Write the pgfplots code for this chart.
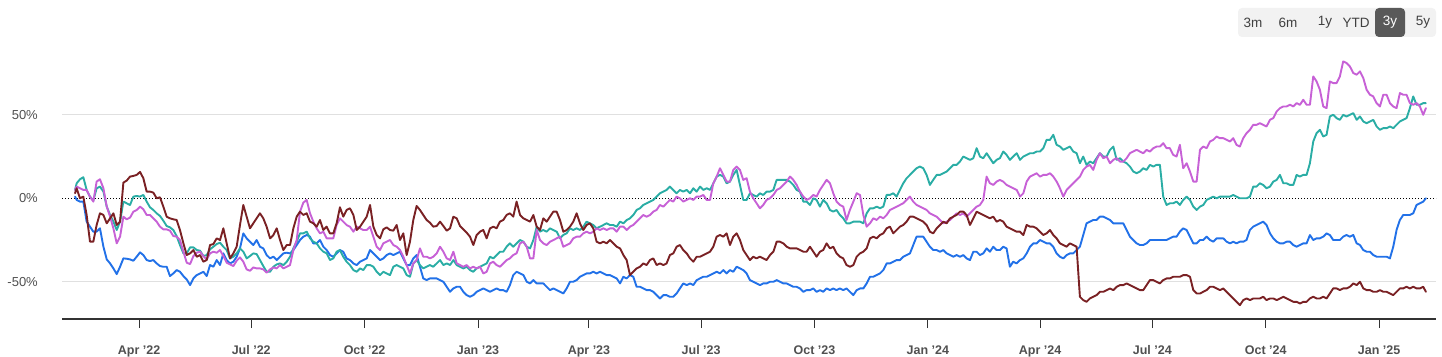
\documentclass[border=0pt]{standalone}
\usepackage{pgfplots}
\pgfplotsset{compat=1.18}
\usepackage{pgfplotstable}
\usepackage{fontspec}
\setmainfont{Liberation Sans}
\definecolor{cblue}{HTML}{2271E8}
\definecolor{cteal}{HTML}{2AADA5}
\definecolor{cmag}{HTML}{C761D6}
\definecolor{cmar}{HTML}{7A2124}
\definecolor{lbl}{HTML}{505050}
\definecolor{btnbg}{HTML}{F2F2F2}
\definecolor{btnon}{HTML}{595959}

% d = days since 1 Jan 2022; values in percent
\pgfplotstableread{
d B T M R
38.1 1 5 5 3
39.4 -1 9 7 6
42.1 -2 11.4 6 0
44.8 -2 12.6 5 1
47.5 -14 5 5 -10
50.2 -17 1 1 -26
52.9 -20 -1.4 -2 -26
55.6 -20 6 10 -16
58.3 -18 7 11.4 -9
61.1 -29 4 6 -10
63.8 -36.6 -5 -5 -15
66.5 -39 -10 -11 -12
69.2 -42 -14 -18 -9
71.9 -45.4 -19 -27 -16
74.6 -41 -14 -23 -14
77.3 -36 -2 -11 9.4
80.0 -36.2 -3 -12.6 10.6
82.7 -36.6 -4 -11.6 13
85.4 -37.4 1 -8 13.4
88.1 -35 1.4 -7 14
90.8 -32.4 1 -5 15.8
93.5 -34 2 -6.6 12
96.2 -37 -2 -10 4
98.9 -37.6 -5.4 -10 4
101.6 -37 -7 -12 3.4
104.3 -39 -9 -14 0
107.0 -40.6 -10.6 -17 0.6
109.7 -41 -13.4 -18.6 -5
112.4 -41 -16.6 -18.6 -11
115.1 -46.6 -17.4 -19.4 -12
117.8 -45 -19 -22.6 -12.6
120.5 -43 -22.6 -23 -13
123.2 -44 -28 -25 -19
126.0 -46.6 -33 -32 -27
128.7 -48.6 -33 -38.6 -34
131.4 -52 -29.4 -39.4 -33
134.1 -48 -29.4 -34.6 -31
136.8 -46 -31 -32.6 -35
139.5 -45 -31.4 -32 -34
142.2 -44 -34.6 -34.6 -38
144.9 -46.6 -34 -36.6 -37
147.6 -40 -30.6 -33 -28
150.3 -41 -29 -32 -27.4
153.0 -37 -27.4 -32.6 -24
155.7 -40 -26.6 -31 -25
158.4 -33 -29 -34.6 -18
161.1 -37 -31 -38.6 -27
163.8 -39 -36 -39.6 -36
166.5 -38 -35 -40.6 -33
169.2 -35 -33 -37.4 -29
171.9 -30 -30 -35.4 -16
174.6 -21 -32 -38 -4
177.3 -24 -36 -42.6 -11
180.0 -26 -34.6 -43.4 -18
182.7 -28 -33 -41.4 -15
185.4 -25 -33.4 -42 -12
188.1 -29 -37 -42 -9
190.8 -30 -40.6 -42.6 -12
193.5 -34 -44 -44.6 -17
196.3 -36 -44 -42.6 -24
199.0 -35 -41 -41.4 -22
201.7 -37 -39.6 -42 -18
204.4 -35 -39 -40 -25
207.1 -33 -40 -42 -31
209.8 -32.6 -38 -41 -28
212.5 -33 -35 -40 -28
215.2 -31 -30 -31 -18
217.9 -28 -26 -25 -11
220.6 -25 -21 -8 -8
223.3 -23 -21 -2.6 -10
226.0 -22 -20 -1 -9
228.7 -23 -24 -9 -14
231.4 -27 -26 -14 -15
234.1 -27 -27 -18 -17
236.8 -25 -30 -21 -13
239.5 -29 -32 -20 -19
242.2 -31 -33 -24 -17
244.9 -34 -37 -24 -21
247.6 -35 -36 -24 -21
250.3 -33 -32 -16 -15
253.0 -31 -31 -12 -5.4
255.7 -32 -35 -14 -11
258.4 -36 -38 -16 -7
261.1 -37 -40 -17 -6
263.9 -39 -43 -20 -10
266.6 -40 -44 -17 -19
269.3 -38 -42 -18 -17
272.0 -37 -43 -19 -14
274.7 -36 -40 -19 -11
277.4 -31 -40 -17 -4
280.1 -33 -41 -23 -17
282.8 -35 -44 -29 -22
285.5 -37 -46 -31 -24
288.2 -36 -44 -27 -18.6
290.9 -34 -45 -26 -17.4
293.6 -33 -46 -25 -19
296.3 -34 -41 -28 -19.4
299.0 -33 -40 -29 -16
301.7 -32 -41 -31 -25
304.4 -36 -42 -35 -21
307.1 -40 -46 -40 -34
309.8 -40 -47 -45 -26
312.5 -36 -39 -39 -13
315.2 -34 -37 -37 -4.6
317.9 -41 -40 -30 -7
320.6 -48 -42 -35 -10
323.3 -49 -41 -35 -13
326.0 -48 -40 -36 -14.6
328.7 -48 -41 -35 -17
331.5 -48 -39 -33 -16.6
334.2 -49 -37 -29 -14
336.9 -50 -40 -32 -16.6
339.6 -53 -39 -36 -19.4
342.3 -56 -40 -37 -18
345.0 -54 -37 -32 -11
347.7 -53 -40 -39 -12
350.4 -53 -41 -40 -16.6
353.1 -56 -42 -41 -18.6
355.8 -58 -41 -40 -20.6
358.5 -59 -43 -42 -23
361.2 -58 -44 -41 -28
363.9 -56 -42 -42 -22
366.6 -55 -41 -41 -20
369.3 -54 -40 -45 -19
372.0 -55 -39 -44 -24
374.7 -56 -35 -39 -18
377.4 -55 -36 -38 -17
380.1 -54 -34 -40 -18
382.8 -55 -32 -41 -14
385.5 -55 -32 -39 -13
388.2 -56 -29 -37 -10
390.9 -52 -27 -36 -9
393.6 -46 -29 -34 -11
396.3 -44 -27 -33 -2
399.1 -45 -25 -27 -10
401.8 -46 -26 -26 -12
404.5 -50 -29 -29 -13
407.2 -51 -30 -36 -14
409.9 -49 -25 -36 -10
412.6 -51 -17 -19 -17
415.3 -51 -20 -25 -19
418.0 -51 -19 -27 -12
420.7 -53 -20 -28 -14
423.4 -55 -18 -26 -11
426.1 -54 -19 -25 -8
428.8 -55 -20 -24 -8
431.5 -56 -24 -23 -13
434.2 -57 -22 -29 -20
436.9 -54 -21 -28 -19
439.6 -50 -18 -27 -17
442.3 -50 -19 -24 -14
445.0 -49 -18 -23 -9
447.7 -47 -19 -23 -15
450.4 -46 -17 -21 -19
453.1 -45 -14 -20 -16
455.8 -45 -15 -21 -15
458.5 -44 -16 -20 -18
461.2 -45 -18 -18 -26
464.0 -44 -17 -19 -27
466.7 -45 -16 -18 -26
469.4 -46 -15 -19 -27
472.1 -46 -16 -18 -25
474.8 -47 -16 -18 -27
477.5 -48 -17 -20 -29
480.2 -51 -14 -17 -30
482.9 -47 -15 -17 -34
485.6 -48 -13 -19 -37
488.3 -46 -12 -17 -46
491.0 -47 -10 -16 -44
493.7 -53 -7 -14 -42
496.4 -53 -6 -12 -41
499.1 -54 -4 -10 -39
501.8 -55 -3 -11 -40
504.5 -55 -2 -10 -37
507.2 -56 -1 -8 -36
509.9 -58 1 -7 -40
512.6 -60 3 -4 -39
515.3 -58 4 -5 -40
518.0 -58 5 -3 -39
520.7 -59 7 -1 -34
523.4 -59 5 -2 -33
526.1 -57 3 1 -29
528.8 -54 5 0 -28
531.5 -51 4 -2 -31
534.3 -52 5 -1 -33
537.0 -51 3 0 -36
539.7 -52 6 -1 -38
542.4 -49 4 1 -35
545.1 -48 7 1 -35
547.8 -47 5 2 -34
550.5 -47 6 -1 -33
553.2 -46 5 -1 -32
555.9 -45 9 9 -29
558.6 -44 13 13 -23
561.3 -45 14 18 -22
564.0 -43 13 14 -23
566.7 -45 9 10 -21
569.4 -43 10 10 -28
572.1 -44 14 17 -23
574.8 -41 17 19 -21
577.5 -42 8 17 -25
580.2 -43 -1 11 -31
582.9 -45 -1 12 -34
585.6 -49 3 4 -37
588.3 -50 2 0 -35
591.0 -51 1 -3 -36
593.7 -52 3 -6 -35
596.4 -51 2 -4 -36
599.1 -51 4 -1 -37
601.9 -50 4 0 -34
604.6 -50 5 2 -32
607.3 -49 11 5 -26
610.0 -50 11 6 -26
612.7 -51 11 8 -27
615.4 -51 11 10 -29
618.1 -52 10 13 -30
620.8 -53 8 11 -30
623.5 -53 5 8 -30
626.2 -54 4 4 -31
628.9 -56 -2 1 -32
631.6 -55 -2 -1 -32
634.3 -55 -4 0 -29
637.0 -54 0 2 -32
639.7 -56 -1 1 -35
642.4 -55 -5 5 -32
645.1 -56 -1 8 -31
647.8 -54 -3 11 -27
650.5 -55 -7 9 -30
653.2 -54 -8 3 -29
655.9 -55 -7 -2 -33
658.6 -54 -10 -4 -35
661.3 -55 -12 -5 -36
664.0 -54 -15 -13 -40
666.7 -56 -15 -7 -41
669.5 -58 -14 -2 -40
672.2 -55 -14 3 -35
674.9 -54 -14 2 -33
677.6 -54 -15 -10 -32
680.3 -51 -9 -17 -30
683.0 -47 -6 -15 -24
685.7 -47 -6 -12 -23
688.4 -46 -5 -13 -24
691.1 -45 -6 -11 -22
693.8 -43 -5 -12 -21
696.5 -39 2 -10 -18
699.2 -39 2 -7 -17
701.9 -38 3 -6 -21
704.6 -37 1 -5 -19
707.3 -37 5 -4 -17
710.0 -35 9 -3 -16
712.7 -34 12 -1 -14
715.4 -33 14 1 -11
718.1 -28 16 -2 -11
720.8 -23 18 -4 -12
723.5 -23 19 -5 -13
726.2 -23 18 -6 -14
728.9 -26 14 -7 -16
731.6 -29 8 -9 -20
734.3 -31 11 -10 -21
737.1 -31 14 -11 -18
739.8 -32 14 -13 -16
742.5 -31 15 -15 -14
745.2 -33 16 -14 -15
747.9 -34 18 -13 -12
750.6 -35 20 -11 -11
753.3 -34 20 -9 -10
756.0 -35 22 -10 -8
758.7 -34 25 -9 -8
761.4 -36 24 -11 -10
764.1 -37 23 -9 -16
766.8 -32 24 -7 -12
769.5 -32 30 -5 -8
772.2 -34 25 -4 -9
774.9 -33 24 -1 -10
777.6 -30 27 13 -11
780.3 -32 24 9 -12
783.0 -29 21 8 -11
785.7 -31 23 10 -14
788.4 -31 24 11 -13
791.1 -29 28 10 -14
793.8 -30 26 8 -17
796.5 -41 23 7 -18
799.2 -38 25 6 -19
802.0 -39 27 5 -20
804.7 -37 23 1 -20
807.4 -36 25 3 -22
810.1 -33 26 10 -16
812.8 -29 27 13 -17
815.5 -27 27 14 -17
818.2 -27 28 15 -18
820.9 -25 28 13 -20
823.6 -26 30 14 -22
826.3 -27 35 14 -21
829.0 -27 35 15 -19
831.7 -29 38 13 -22
834.4 -33 32 10 -24
837.1 -35 31 6 -27
839.8 -36 29 1 -28
842.5 -34 30 5 -29
845.2 -33 31 7 -27
847.9 -33 28 9 -28
850.6 -31 27 11 -29
853.3 -29 21 13 -59
856.0 -22 25 17 -61
858.7 -15 20 19 -62
861.4 -14 22 20 -60
864.1 -13 21 17 -59
866.8 -13 24 23 -58
869.5 -11 27 27 -56
872.3 -11 25 24 -56
875.0 -12 25 25 -55
877.7 -13 29 21 -54
880.4 -15 31 23 -55
883.1 -15 23 24 -53
885.8 -15 24 22 -52
888.5 -15 22 22 -52
891.2 -19 21 24 -51
893.9 -23 19 27 -52
896.6 -25 16 28 -53
899.3 -27 15 29 -54
902.0 -28 16 28 -55
904.7 -28 18 27 -55
907.4 -27 17 29 -52
910.1 -25 20 28 -49
912.8 -25 19 30 -49
915.5 -25 20 31 -50
918.2 -25 20 31 -51
920.9 -25 1 33 -49
923.6 -25 -4 30 -48
926.3 -24 -3 30 -48
929.0 -23 -3 26 -47
931.7 -23 -2 25 -47
934.4 -20 -4 32 -47
937.1 -18 -1 18 -46
939.9 -19 1 21 -46
942.6 -23 -1 16 -47
945.3 -27 -5 10 -55
948.0 -27 -7 10 -57
950.7 -25 -5 29 -57
953.4 -25 -4 31 -56
956.1 -23 -1 30 -55
958.8 -25 0 34 -53
961.5 -26 1 35 -53
964.2 -24 0 37 -54
966.9 -24 1 36 -55
969.6 -24 1 36 -54
972.3 -26 1 35 -56
975.0 -27 1 34 -58
977.7 -26 2 36 -60
980.4 -27 1 32 -62
983.1 -26 0 31 -64
985.8 -26 0 36 -61
988.5 -25 0 39 -60
991.2 -19 1 41 -61
993.9 -17 7 44 -60
996.6 -16 7 44 -60
999.3 -15 9 45 -60
1002.0 -14 8 44 -59
1004.7 -16 6 43 -61
1007.5 -21 7 47 -60
1010.2 -24 10 48 -60
1012.9 -26 11 52 -61
1015.6 -27 14 54 -60
1018.3 -27 9 55 -59
1021.0 -26 9 55 -60
1023.7 -26 8 56 -61
1026.4 -28 8 55 -62
1029.1 -29 14 57 -62
1031.8 -28 13 56 -63
1034.5 -27 14 59 -62
1037.2 -27 14 56 -62
1039.9 -22 21 56 -60
1042.6 -25 34 73 -59
1045.3 -24 39 70 -60
1048.0 -24 41 65 -60
1050.7 -23 37 55 -59
1053.4 -21 38 54 -60
1056.1 -22 49 70 -57
1058.8 -25 50 69 -54
1061.5 -25 48 69 -54
1064.2 -25 47 73 -55
1066.9 -23 50 82 -54
1069.6 -22 49 81 -54
1072.3 -23 50 79 -53
1075.1 -22 51 75 -51
1077.8 -27 47 74 -52
1080.5 -28 49 76 -50
1083.2 -31 46 72 -54
1085.9 -32 45 65 -55
1088.6 -32 46 62 -55
1091.3 -34 47 61 -56
1094.0 -35 43 57 -56
1096.7 -35 41 55 -55
1099.4 -35 42 62 -56
1102.1 -35 42 62 -56
1104.8 -36 43 57 -57
1107.5 -29 42 55 -58
1110.2 -19 44 54 -56
1112.9 -13 46 63 -54
1115.6 -10 47 62 -54
1118.3 -10 48 62 -53
1121.0 -10 54 57 -54
1123.7 -9 61 56 -53
1126.4 -4 56 57 -54
1129.1 -3 56 55 -54
1131.8 -2 57 50 -53
1134.0 0 57 54 -56
}\data

\begin{document}
\begin{tikzpicture}[x=1pt,y=1pt]
\useasboundingbox (0,0) rectangle (1442,356);
% range selector
\fill[btnbg, rounded corners=4pt] (1238,319) rectangle (1436,348);
\fill[btnon, rounded corners=4pt] (1375,319) rectangle (1405,348);
\begin{scope}[every node/.style={font=\fontsize{13.5}{15}\selectfont, text=black!75, anchor=center, inner sep=0pt}]
\node at (1253,333.5) {3m};
\node at (1288,333.5) {6m};
\node at (1325,333.5) {1y};
\node at (1356,333.5) {YTD};
\node[text=white] at (1390,333.5) {3y};
\node at (1423,333.5) {5y};
\end{scope}
\begin{axis}[
  at={(62pt,37pt)}, anchor=south west,
  scale only axis, width=1374pt, height=279pt,
  xmin=27.5, xmax=1142.2, ymin=-72.3, ymax=94.8,
  axis x line*=bottom, axis y line*=left,
  y axis line style={draw=none},
  x axis line style={draw=black!80, line width=1.1pt},
  xtick={90,181,273,365,455,546,638,730,821,912,1004,1096},
  xticklabels={Apr '22,Jul '22,Oct '22,Jan '23,Apr '23,Jul '23,Oct '23,Jan '24,Apr '24,Jul '24,Oct '24,Jan '25},
  tick align=outside,
  xtick style={draw=black!80, line width=1pt},
  major tick length=9pt,
  ytick={-50,50}, yticklabels={-50\%,50\%},
  ytick style={draw=none},
  extra y ticks={0}, extra y tick labels={0\%},
  extra y tick style={grid=major, grid style={draw=black, line width=1pt, dash pattern=on 1pt off 2pt}},
  ymajorgrids,
  grid style={draw=black!12, line width=0.8pt},
  yticklabel style={font=\fontsize{13}{15}\selectfont, text=lbl, anchor=east, inner sep=0pt, xshift=-15pt},
  xticklabel style={font=\fontsize{12.5}{14}\selectfont\bfseries, text=lbl, anchor=base, inner sep=0pt, yshift=-26.5pt},
  every axis plot/.append style={line width=1.9pt, line join=round, line cap=round},
  clip=false,
]
\addplot[cblue] table[x=d,y=B]{\data};
\addplot[cteal] table[x=d,y=T]{\data};
\addplot[cmag] table[x=d,y=M]{\data};
\addplot[cmar] table[x=d,y=R]{\data};
\end{axis}
\end{tikzpicture}
\end{document}
